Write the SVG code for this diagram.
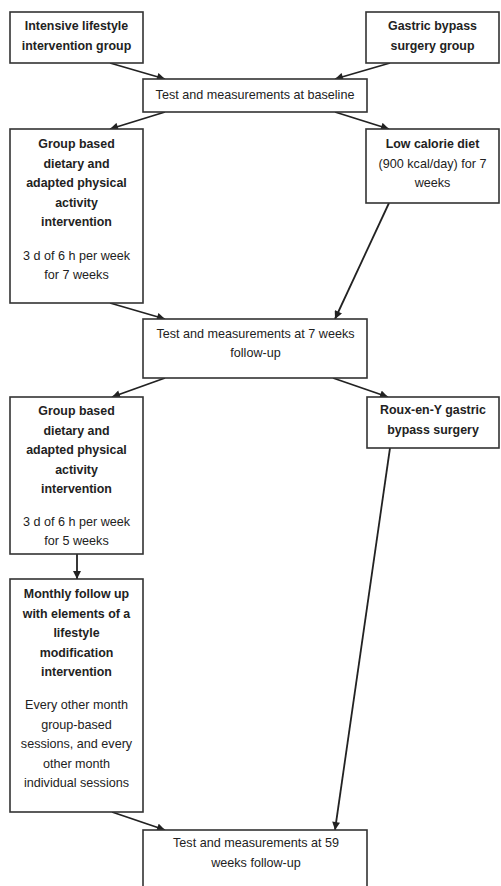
<svg xmlns="http://www.w3.org/2000/svg" width="501" height="886" viewBox="0 0 501 886">
<style>
.box{fill:#fff;stroke:#333;stroke-width:1.6}
.t{font-family:"Liberation Sans",Arial,sans-serif;font-size:12.6px;fill:#222;text-anchor:middle}
.b{font-weight:bold;font-size:12.4px}
.c{stroke:#222;stroke-width:1.8;fill:none;marker-end:url(#ah)}
</style>
<defs>
<marker id="ah" viewBox="0 0 10 10" refX="10" refY="5" markerWidth="10" markerHeight="8" markerUnits="userSpaceOnUse" orient="auto">
<path d="M0,0 L10,5 L0,10 z" fill="#222"/>
</marker>
</defs>
<rect width="501" height="886" fill="#fff"/>
<g id="connectors">
<line class="c" x1="110" y1="63" x2="165" y2="79"/>
<line class="c" x1="390" y1="63" x2="335" y2="79"/>
<line class="c" x1="165" y1="112" x2="110" y2="129"/>
<line class="c" x1="335" y1="112" x2="389" y2="129"/>
<line class="c" x1="110" y1="303" x2="165" y2="319"/>
<line class="c" x1="389" y1="203" x2="335" y2="319"/>
<line class="c" x1="165" y1="378" x2="112" y2="397"/>
<line class="c" x1="333" y1="378" x2="388" y2="397"/>
<line class="c" x1="77" y1="554" x2="77" y2="579"/>
<line class="c" x1="390" y1="448" x2="335" y2="830"/>
<line class="c" x1="112" y1="812" x2="165" y2="830"/>
</g>
<g id="intensive">
<rect class="box" x="10" y="12" width="133" height="51"/>
<text class="t b" x="76.5" y="30">Intensive lifestyle</text>
<text class="t b" x="76.5" y="50">intervention group</text>
</g>
<g id="gastric">
<rect class="box" x="366" y="12" width="133" height="51"/>
<text class="t b" x="432.5" y="30">Gastric bypass</text>
<text class="t b" x="432.5" y="50">surgery group</text>
</g>
<g id="baseline">
<rect class="box" x="143" y="79" width="224" height="33"/>
<text class="t" x="255" y="99">Test and measurements at baseline</text>
</g>
<g id="group1">
<rect class="box" x="10" y="129" width="133" height="174"/>
<text class="t b" x="76.5" y="148">Group based</text>
<text class="t b" x="76.5" y="167.5">dietary and</text>
<text class="t b" x="76.5" y="187">adapted physical</text>
<text class="t b" x="76.5" y="206.5">activity</text>
<text class="t b" x="76.5" y="226">intervention</text>
<text class="t" x="76.5" y="260">3 d of 6 h per week</text>
<text class="t" x="76.5" y="279">for 7 weeks</text>
</g>
<g id="lowcal">
<rect class="box" x="366" y="129" width="133" height="74"/>
<text class="t b" x="432.5" y="148">Low calorie diet</text>
<text class="t" x="432.5" y="167.5">(900 kcal/day) for 7</text>
<text class="t" x="432.5" y="187">weeks</text>
</g>
<g id="week7">
<rect class="box" x="143" y="319" width="224" height="59"/>
<text class="t" x="255.5" y="338">Test and measurements at 7 weeks</text>
<text class="t" x="255.5" y="357">follow-up</text>
</g>
<g id="group2">
<rect class="box" x="10" y="397" width="133" height="157"/>
<text class="t b" x="76.5" y="415">Group based</text>
<text class="t b" x="76.5" y="434.5">dietary and</text>
<text class="t b" x="76.5" y="454">adapted physical</text>
<text class="t b" x="76.5" y="473.5">activity</text>
<text class="t b" x="76.5" y="493">intervention</text>
<text class="t" x="76.5" y="526">3 d of 6 h per week</text>
<text class="t" x="76.5" y="545">for 5 weeks</text>
</g>
<g id="roux">
<rect class="box" x="367" y="397" width="132" height="51"/>
<text class="t b" x="433" y="414">Roux-en-Y gastric</text>
<text class="t b" x="433" y="433.5">bypass surgery</text>
</g>
<g id="monthly">
<rect class="box" x="10" y="579" width="133" height="233"/>
<text class="t b" x="76.5" y="598">Monthly follow up</text>
<text class="t b" x="76.5" y="617.5">with elements of a</text>
<text class="t b" x="76.5" y="637">lifestyle</text>
<text class="t b" x="76.5" y="656.5">modification</text>
<text class="t b" x="76.5" y="676">intervention</text>
<text class="t" x="76.5" y="709">Every other month</text>
<text class="t" x="76.5" y="728.5">group-based</text>
<text class="t" x="76.5" y="748">sessions, and every</text>
<text class="t" x="76.5" y="767.5">other month</text>
<text class="t" x="76.5" y="787">individual sessions</text>
</g>
<g id="week59">
<rect class="box" x="143" y="830" width="224" height="70"/>
<text class="t" x="256" y="847">Test and measurements at 59</text>
<text class="t" x="256" y="867">weeks follow-up</text>
</g>
</svg>
